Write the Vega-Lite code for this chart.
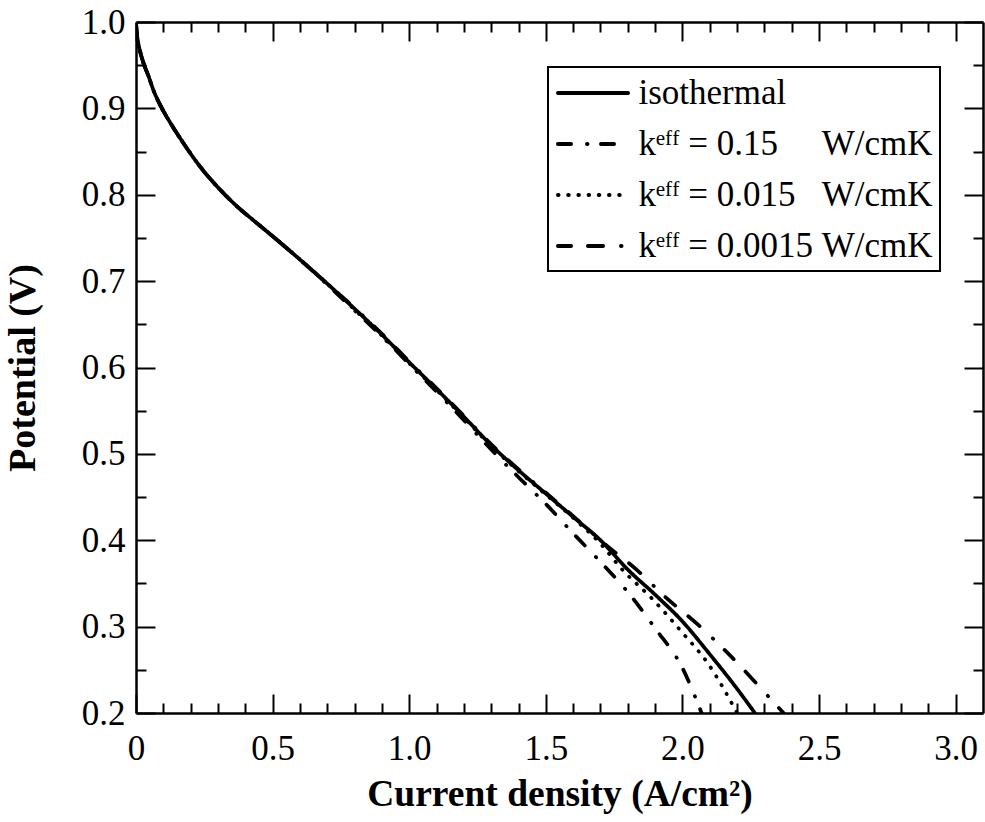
{
  "$schema": "https://vega.github.io/schema/vega-lite/v6.json",
  "width": 847,
  "height": 691,
  "autosize": {"type": "none"},
  "padding": {"left": 136, "top": 22, "right": 2, "bottom": 109},
  "background": "white",
  "config": {
    "view": {"stroke": null},
    "font": "Liberation Serif",
    "legend": {"strokeWidth": 2}
  },
  "data": {
    "values": [
      {"i": 0, "v": 1.0, "s": "isothermal"},
      {"i": 0.002, "v": 0.99, "s": "isothermal"},
      {"i": 0.006, "v": 0.98, "s": "isothermal"},
      {"i": 0.012, "v": 0.97, "s": "isothermal"},
      {"i": 0.02, "v": 0.96, "s": "isothermal"},
      {"i": 0.03, "v": 0.95, "s": "isothermal"},
      {"i": 0.045, "v": 0.938, "s": "isothermal"},
      {"i": 0.065, "v": 0.92, "s": "isothermal"},
      {"i": 0.09, "v": 0.903, "s": "isothermal"},
      {"i": 0.13, "v": 0.881, "s": "isothermal"},
      {"i": 0.173, "v": 0.86, "s": "isothermal"},
      {"i": 0.21, "v": 0.843, "s": "isothermal"},
      {"i": 0.246, "v": 0.828, "s": "isothermal"},
      {"i": 0.29, "v": 0.812, "s": "isothermal"},
      {"i": 0.332, "v": 0.798, "s": "isothermal"},
      {"i": 0.375, "v": 0.785, "s": "isothermal"},
      {"i": 0.42, "v": 0.773, "s": "isothermal"},
      {"i": 0.5, "v": 0.752, "s": "isothermal"},
      {"i": 0.6, "v": 0.725, "s": "isothermal"},
      {"i": 0.7, "v": 0.697, "s": "isothermal"},
      {"i": 0.8, "v": 0.668, "s": "isothermal"},
      {"i": 0.9, "v": 0.638, "s": "isothermal"},
      {"i": 1.0, "v": 0.606, "s": "isothermal"},
      {"i": 1.1, "v": 0.575, "s": "isothermal"},
      {"i": 1.2, "v": 0.543, "s": "isothermal"},
      {"i": 1.3, "v": 0.51, "s": "isothermal"},
      {"i": 1.4, "v": 0.481, "s": "isothermal"},
      {"i": 1.5, "v": 0.454, "s": "isothermal"},
      {"i": 1.6, "v": 0.427, "s": "isothermal"},
      {"i": 1.7, "v": 0.4, "s": "isothermal"},
      {"i": 1.8, "v": 0.366, "s": "isothermal"},
      {"i": 1.9, "v": 0.337, "s": "isothermal"},
      {"i": 2.0, "v": 0.306, "s": "isothermal"},
      {"i": 2.1, "v": 0.268, "s": "isothermal"},
      {"i": 2.2, "v": 0.228, "s": "isothermal"},
      {"i": 2.265, "v": 0.2, "s": "isothermal"},

      {"i": 0, "v": 1.0, "s": "0.15"},
      {"i": 0.002, "v": 0.99, "s": "0.15"},
      {"i": 0.006, "v": 0.98, "s": "0.15"},
      {"i": 0.012, "v": 0.97, "s": "0.15"},
      {"i": 0.02, "v": 0.96, "s": "0.15"},
      {"i": 0.03, "v": 0.95, "s": "0.15"},
      {"i": 0.045, "v": 0.938, "s": "0.15"},
      {"i": 0.065, "v": 0.92, "s": "0.15"},
      {"i": 0.09, "v": 0.903, "s": "0.15"},
      {"i": 0.13, "v": 0.881, "s": "0.15"},
      {"i": 0.173, "v": 0.86, "s": "0.15"},
      {"i": 0.21, "v": 0.843, "s": "0.15"},
      {"i": 0.246, "v": 0.828, "s": "0.15"},
      {"i": 0.29, "v": 0.812, "s": "0.15"},
      {"i": 0.332, "v": 0.798, "s": "0.15"},
      {"i": 0.375, "v": 0.785, "s": "0.15"},
      {"i": 0.42, "v": 0.773, "s": "0.15"},
      {"i": 0.5, "v": 0.752, "s": "0.15"},
      {"i": 0.6, "v": 0.725, "s": "0.15"},
      {"i": 0.7, "v": 0.696, "s": "0.15"},
      {"i": 0.8, "v": 0.666, "s": "0.15"},
      {"i": 0.9, "v": 0.636, "s": "0.15"},
      {"i": 1.0, "v": 0.604, "s": "0.15"},
      {"i": 1.1, "v": 0.572, "s": "0.15"},
      {"i": 1.2, "v": 0.539, "s": "0.15"},
      {"i": 1.3, "v": 0.505, "s": "0.15"},
      {"i": 1.4, "v": 0.473, "s": "0.15"},
      {"i": 1.5, "v": 0.442, "s": "0.15"},
      {"i": 1.6, "v": 0.408, "s": "0.15"},
      {"i": 1.7, "v": 0.375, "s": "0.15"},
      {"i": 1.8, "v": 0.34, "s": "0.15"},
      {"i": 1.9, "v": 0.298, "s": "0.15"},
      {"i": 2.0, "v": 0.252, "s": "0.15"},
      {"i": 2.07, "v": 0.2, "s": "0.15"},

      {"i": 0, "v": 1.0, "s": "0.015"},
      {"i": 0.002, "v": 0.99, "s": "0.015"},
      {"i": 0.006, "v": 0.98, "s": "0.015"},
      {"i": 0.012, "v": 0.97, "s": "0.015"},
      {"i": 0.02, "v": 0.96, "s": "0.015"},
      {"i": 0.03, "v": 0.95, "s": "0.015"},
      {"i": 0.045, "v": 0.938, "s": "0.015"},
      {"i": 0.065, "v": 0.92, "s": "0.015"},
      {"i": 0.09, "v": 0.903, "s": "0.015"},
      {"i": 0.13, "v": 0.881, "s": "0.015"},
      {"i": 0.173, "v": 0.86, "s": "0.015"},
      {"i": 0.21, "v": 0.843, "s": "0.015"},
      {"i": 0.246, "v": 0.828, "s": "0.015"},
      {"i": 0.29, "v": 0.812, "s": "0.015"},
      {"i": 0.332, "v": 0.798, "s": "0.015"},
      {"i": 0.375, "v": 0.785, "s": "0.015"},
      {"i": 0.42, "v": 0.773, "s": "0.015"},
      {"i": 0.5, "v": 0.752, "s": "0.015"},
      {"i": 0.6, "v": 0.725, "s": "0.015"},
      {"i": 0.7, "v": 0.697, "s": "0.015"},
      {"i": 0.8, "v": 0.667, "s": "0.015"},
      {"i": 0.9, "v": 0.637, "s": "0.015"},
      {"i": 1.0, "v": 0.605, "s": "0.015"},
      {"i": 1.1, "v": 0.574, "s": "0.015"},
      {"i": 1.2, "v": 0.542, "s": "0.015"},
      {"i": 1.3, "v": 0.509, "s": "0.015"},
      {"i": 1.4, "v": 0.48, "s": "0.015"},
      {"i": 1.5, "v": 0.453, "s": "0.015"},
      {"i": 1.6, "v": 0.426, "s": "0.015"},
      {"i": 1.7, "v": 0.396, "s": "0.015"},
      {"i": 1.777, "v": 0.367, "s": "0.015"},
      {"i": 1.893, "v": 0.331, "s": "0.015"},
      {"i": 1.997, "v": 0.294, "s": "0.015"},
      {"i": 2.094, "v": 0.257, "s": "0.015"},
      {"i": 2.2, "v": 0.2, "s": "0.015"},

      {"i": 0, "v": 1.0, "s": "0.0015"},
      {"i": 0.002, "v": 0.99, "s": "0.0015"},
      {"i": 0.006, "v": 0.98, "s": "0.0015"},
      {"i": 0.012, "v": 0.97, "s": "0.0015"},
      {"i": 0.02, "v": 0.96, "s": "0.0015"},
      {"i": 0.03, "v": 0.95, "s": "0.0015"},
      {"i": 0.045, "v": 0.938, "s": "0.0015"},
      {"i": 0.065, "v": 0.92, "s": "0.0015"},
      {"i": 0.09, "v": 0.903, "s": "0.0015"},
      {"i": 0.13, "v": 0.881, "s": "0.0015"},
      {"i": 0.173, "v": 0.86, "s": "0.0015"},
      {"i": 0.21, "v": 0.843, "s": "0.0015"},
      {"i": 0.246, "v": 0.828, "s": "0.0015"},
      {"i": 0.29, "v": 0.812, "s": "0.0015"},
      {"i": 0.332, "v": 0.798, "s": "0.0015"},
      {"i": 0.375, "v": 0.785, "s": "0.0015"},
      {"i": 0.42, "v": 0.773, "s": "0.0015"},
      {"i": 0.5, "v": 0.752, "s": "0.0015"},
      {"i": 0.6, "v": 0.725, "s": "0.0015"},
      {"i": 0.7, "v": 0.697, "s": "0.0015"},
      {"i": 0.8, "v": 0.669, "s": "0.0015"},
      {"i": 0.9, "v": 0.639, "s": "0.0015"},
      {"i": 1.0, "v": 0.607, "s": "0.0015"},
      {"i": 1.1, "v": 0.576, "s": "0.0015"},
      {"i": 1.2, "v": 0.544, "s": "0.0015"},
      {"i": 1.3, "v": 0.511, "s": "0.0015"},
      {"i": 1.4, "v": 0.482, "s": "0.0015"},
      {"i": 1.5, "v": 0.455, "s": "0.0015"},
      {"i": 1.6, "v": 0.428, "s": "0.0015"},
      {"i": 1.722, "v": 0.394, "s": "0.0015"},
      {"i": 1.832, "v": 0.366, "s": "0.0015"},
      {"i": 1.942, "v": 0.333, "s": "0.0015"},
      {"i": 2.058, "v": 0.302, "s": "0.0015"},
      {"i": 2.167, "v": 0.269, "s": "0.0015"},
      {"i": 2.283, "v": 0.23, "s": "0.0015"},
      {"i": 2.37, "v": 0.2, "s": "0.0015"}
    ]
  },
  "layer": [
    {
      "mark": {"type": "line", "color": "black", "strokeWidth": 3.7, "strokeCap": "round", "interpolate": "monotone", "clip": true},
      "encoding": {
        "x": {
          "field": "i", "type": "quantitative",
          "scale": {"domain": [0, 3.1], "nice": false, "zero": false},
          "axis": {
            "orient": "bottom",
            "values": [0, 0.1, 0.2, 0.3, 0.4, 0.5, 0.6, 0.7, 0.8, 0.9, 1.0, 1.1, 1.2, 1.3, 1.4, 1.5, 1.6, 1.7, 1.8, 1.9, 2.0, 2.1, 2.2, 2.3, 2.4, 2.5, 2.6, 2.7, 2.8, 2.9, 3.0],
            "tickSize": {"condition": {"test": "abs(datum.value*2-round(datum.value*2))<0.001", "value": -19}, "value": -10},
            "tickWidth": 2, "tickColor": "black",
            "domainColor": "black", "domainWidth": 2.5,
            "labelExpr": "abs(datum.value*2-round(datum.value*2))<0.001 ? (datum.value==0 ? '0' : format(datum.value, '.1f')) : ''",
            "labelFont": "Liberation Serif",
            "labelFontSize": 35, "labelColor": "black",
            "labelPadding": 37, "labelFlush": false, "labelOverlap": false, "labelBound": false,
            "grid": false,
            "title": "Current density (A/cm²)",
            "titleFont": "Liberation Serif", "titleFontSize": 37.5, "titleFontWeight": "bold", "titleColor": "black",
            "titlePadding": 0
          }
        },
        "y": {
          "field": "v", "type": "quantitative",
          "scale": {"domain": [0.2, 1.0], "nice": false, "zero": false},
          "axis": {
            "orient": "left",
            "values": [0.2, 0.25, 0.3, 0.35, 0.4, 0.45, 0.5, 0.55, 0.6, 0.65, 0.7, 0.75, 0.8, 0.85, 0.9, 0.95, 1.0],
            "tickSize": {"condition": {"test": "abs(datum.value*10-round(datum.value*10))<0.001", "value": -19}, "value": -10},
            "tickWidth": 2, "tickColor": "black",
            "domainColor": "black", "domainWidth": 2.5,
            "labelExpr": "abs(datum.value*10-round(datum.value*10))<0.001 ? format(datum.value, '.1f') : ''",
            "labelFont": "Liberation Serif",
            "labelFontSize": 35, "labelColor": "black",
            "labelPadding": 30, "labelFlush": false, "labelOverlap": false, "labelBound": false,
            "grid": false,
            "title": "Potential (V)",
            "titleFont": "Liberation Serif", "titleFontSize": 38, "titleFontWeight": "bold", "titleColor": "black",
            "titlePadding": 39
          }
        },
        "strokeDash": {
          "field": "s", "type": "nominal",
          "scale": {
            "domain": ["isothermal", "0.15", "0.015", "0.0015"],
            "range": [[1, 0], [13, 16, 0.5, 13.5], [0.5, 9.7], [13, 17, 15, 18, 0.5, 16]]
          },
          "legend": {
            "orient": "none", "legendX": 412, "legendY": 45,
            "title": null,
            "symbolType": "M-2,0H2", "symbolSize": 1225, "symbolStrokeWidth": 4, "symbolStrokeColor": "black",
            "symbolOffset": 19,
            "labelOffset": 26,
            "labelFont": "Liberation Serif",
            "labelFontSize": 35, "labelColor": "black", "labelLimit": 0,
            "rowPadding": 13, "padding": 6.5,
            "strokeColor": "black", "fillColor": "white",
            "labelExpr": "datum.label == 'isothermal' ? 'isothermal' : datum.label == '0.15' ? 'k\u1d49\u1da0\u1da0 = 0.15\u00a0\u00a0\u00a0\u00a0\u00a0W/cmK' : datum.label == '0.015' ? 'k\u1d49\u1da0\u1da0 = 0.015\u00a0\u00a0\u00a0W/cmK' : 'k\u1d49\u1da0\u1da0 = 0.0015\u00a0W/cmK'",
            "encode": {"symbols": {"update": {"strokeCap": {"value": "round"}}}}
          }
        }
      }
    },
    {
      "mark": {"type": "line", "opacity": 0},
      "encoding": {
        "x": {
          "field": "i", "type": "quantitative",
          "axis": {
            "orient": "top",
            "values": [0, 0.1, 0.2, 0.3, 0.4, 0.5, 0.6, 0.7, 0.8, 0.9, 1.0, 1.1, 1.2, 1.3, 1.4, 1.5, 1.6, 1.7, 1.8, 1.9, 2.0, 2.1, 2.2, 2.3, 2.4, 2.5, 2.6, 2.7, 2.8, 2.9, 3.0],
            "tickSize": {"condition": {"test": "abs(datum.value*2-round(datum.value*2))<0.001", "value": -19}, "value": -10},
            "tickWidth": 2, "tickColor": "black",
            "domainColor": "black", "domainWidth": 2.5,
            "labels": false, "grid": false, "title": null
          }
        },
        "y": {
          "field": "v", "type": "quantitative",
          "axis": {
            "orient": "right",
            "values": [0.2, 0.25, 0.3, 0.35, 0.4, 0.45, 0.5, 0.55, 0.6, 0.65, 0.7, 0.75, 0.8, 0.85, 0.9, 0.95, 1.0],
            "tickSize": {"condition": {"test": "abs(datum.value*10-round(datum.value*10))<0.001", "value": -19}, "value": -10},
            "tickWidth": 2, "tickColor": "black",
            "domainColor": "black", "domainWidth": 2.5,
            "labels": false, "grid": false, "title": null
          }
        },
        "detail": {"field": "s", "type": "nominal"}
      }
    }
  ],
  "resolve": {"axis": {"x": "independent", "y": "independent"}}
}
